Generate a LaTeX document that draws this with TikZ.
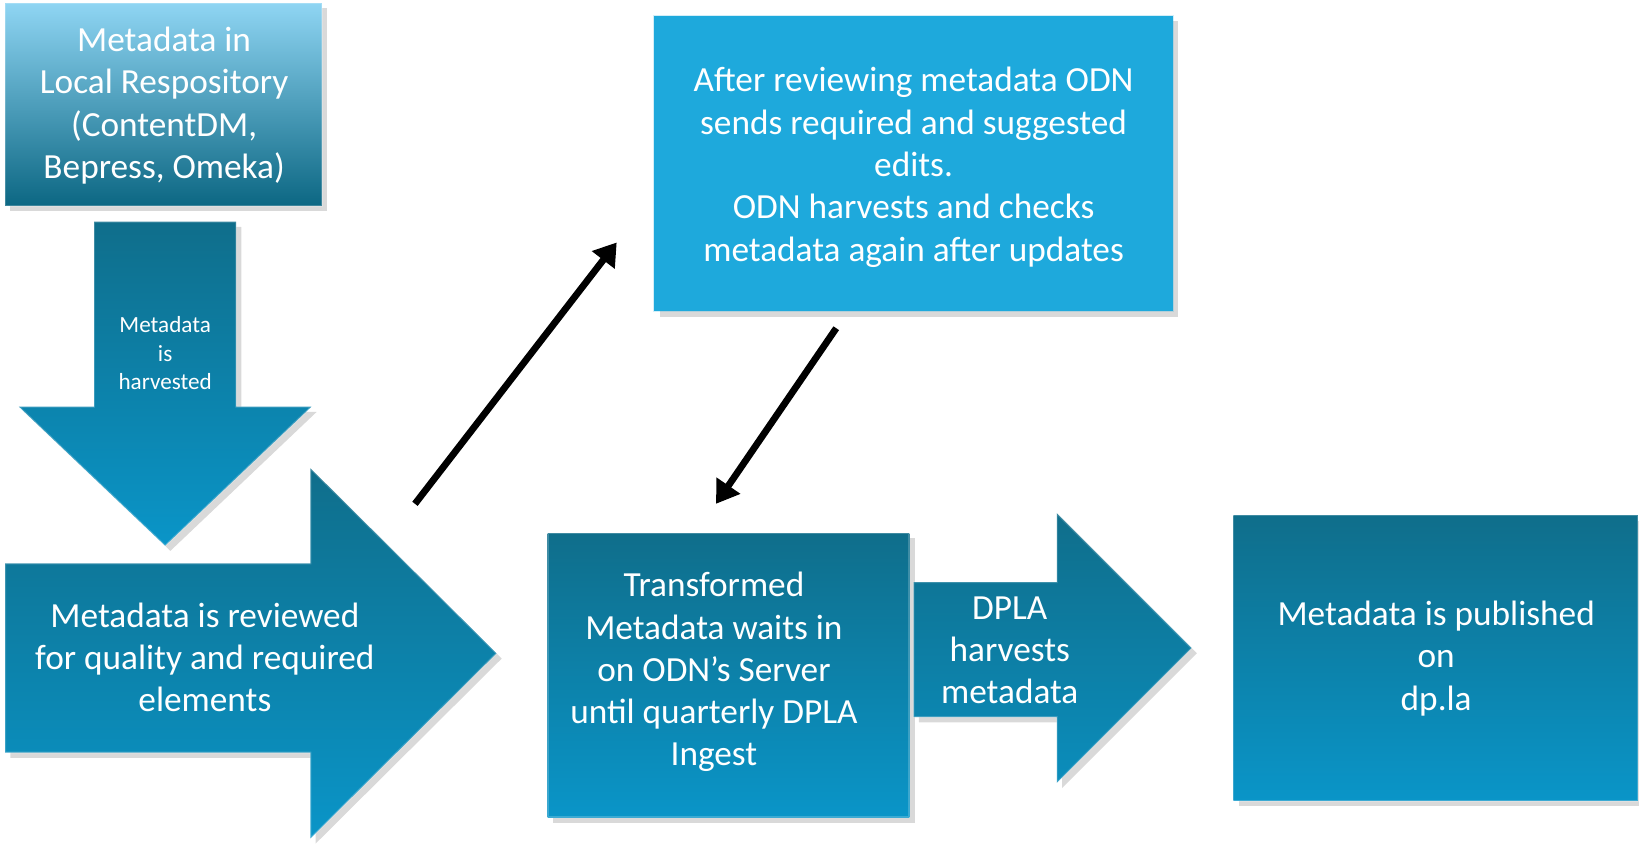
\documentclass[tikz,border=0pt]{standalone}
\usepackage{fontspec}
\setmainfont{Carlito}
\usetikzlibrary{arrows.meta,shadows}

\definecolor{odnteal}{HTML}{0F6E8B}
\definecolor{odndeep}{HTML}{0C6783}
\definecolor{odnlight}{HTML}{0A95C8}
\definecolor{odnsky}{HTML}{1EA9DC}
\definecolor{odnpale}{HTML}{8FD5F3}

\tikzset{
  block/.style={drop shadow={opacity=0.3, shadow xshift=0.5mm, shadow yshift=-0.5mm},
    draw=white, draw opacity=0.2, line width=0.5pt},
  boxtext/.style={text=white, align=center, font=\fontsize{9.6}{11.5}\selectfont},
  smalltext/.style={text=white, align=center, font=\fontsize{6.3}{7.8}\selectfont},
  flow/.style={line width=1.85pt, -{Triangle[length=6pt,width=7.5pt]}}
}

\begin{document}
\begin{tikzpicture}[x=0.01cm, y=-0.01cm]
  \useasboundingbox (0,0) rectangle (1568,812);
  % local repository
  \shade[block, top color=odnpale, middle color=odnteal, bottom color=odndeep] (5,3) rectangle (308,197);
  \node[boxtext] (repo) at (157,101) {Metadata in\\Local Respository\\(ContentDM,\\Bepress, Omeka)};
  % harvest arrow
  \shade[block, top color=odnteal, middle color=odnteal!92!odnlight, bottom color=odnlight]
    (90,212) -- (226,212) -- (226,389) -- (298,389) -- (158,522) -- (18,389) -- (90,389) -- cycle;
  \node[smalltext] (harvest) at (158,338) {Metadata\\is\\harvested};
  % review arrow
  \shade[block, top color=odnteal, middle color=odnteal, bottom color=odnlight]
    (5,539) -- (297,539) -- (297,448) -- (475,625) -- (297,802) -- (297,720) -- (5,720) -- cycle;
  \node[boxtext] (review) at (196,629) {Metadata is reviewed\\for quality and required\\elements};
  % ODN edits
  \fill[block, odnsky] (626,15) rectangle (1122,298);
  \node[boxtext] (edits) at (874,160) {After reviewing metadata ODN\\sends required and suggested\\edits.\\ODN harvests and checks\\metadata again after updates};
  % ODN server
  \shade[block, top color=odnteal, middle color=odnteal!92!odnlight, bottom color=odnlight] (524,510) rectangle (870,782);
  \node[boxtext] (server) at (683,643) {Transformed\\Metadata waits in\\on ODN’s Server\\until quarterly DPLA\\Ingest};
  % DPLA arrow
  \shade[block, top color=odnteal, middle color=odnteal, bottom color=odnlight!80!odnteal]
    (874,557) -- (1011,557) -- (1011,491) -- (1140,620) -- (1011,749) -- (1011,686) -- (874,686) -- cycle;
  \node[boxtext] (dpla) at (966,622) {DPLA\\harvests\\metadata};
  % published
  \shade[block, top color=odnteal, middle color=odnteal!92!odnlight, bottom color=odnlight] (1180,493) rectangle (1567,766);
  \node[boxtext] (pub) at (1374,630) {Metadata is published\\on\\dp.la};
  % connectors
  \coordinate (send from) at (397,482);
  \coordinate (send to) at (590,232);
  \coordinate (back from) at (800,314);
  \coordinate (back to) at (685,482);
  \draw[flow] (send from) -- (send to);
  \draw[flow] (back from) -- (back to);
\end{tikzpicture}
\end{document}
